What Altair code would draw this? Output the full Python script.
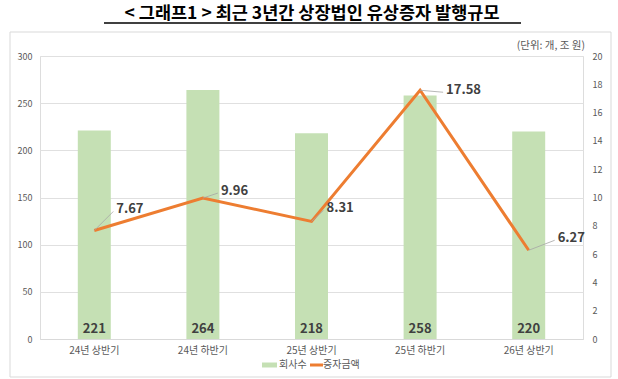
import altair as alt
import pandas as pd

categories = ["24년 상반기", "24년 하반기", "25년 상반기", "25년 하반기", "26년 상반기"]
companies = [221, 264, 218, 258, 220]
amounts = [7.67, 9.96, 8.31, 17.58, 6.27]

TITLE = "< 그래프1 > 최근 3년간 상장법인 유상증자 발행규모"
UNIT = "(단위: 개, 조 원)"
LEGEND_BAR = "회사수"
LEGEND_LINE = "증자금액"

FONT = "Noto Sans CJK KR"
GREEN = "#c5e0b4"
ORANGE = "#ed7d31"
GRAY = "#595959"

df = pd.DataFrame({"cat": categories, "count": companies, "amount": amounts})

xenc = alt.X("cat:N", sort=categories, title=None,
             scale=alt.Scale(paddingInner=0, paddingOuter=0),
             axis=alt.Axis(labelAngle=0, labelFont=FONT, labelFontSize=10, labelColor=GRAY,
                           labelPadding=6, ticks=False, domainColor="#d9d9d9", grid=False))

left_axis = alt.Axis(values=[0, 50, 100, 150, 200, 250, 300], orient="left",
                     labelFont=FONT, labelFontSize=9, labelColor=GRAY, labelPadding=8,
                     labelOverlap=False, ticks=False, domain=False, gridColor="#e0e0e0")
right_axis = alt.Axis(values=list(range(0, 21, 2)), orient="right",
                      labelFont=FONT, labelFontSize=9, labelColor=GRAY, labelPadding=9,
                      labelOverlap=False, ticks=False, domain=False, grid=False)


def yleft():
    return alt.Y("count:Q", title=None, scale=alt.Scale(domain=[0, 300]), axis=left_axis)


def yright():
    return alt.Y("amount:Q", title=None, scale=alt.Scale(domain=[0, 20]), axis=right_axis)


bars = alt.Chart(df).mark_bar(color=GREEN, size=33).encode(x=xenc, y=yleft())
bar_text = alt.Chart(df).mark_text(font=FONT, fontSize=13, fontWeight="bold", color="#404040",
                                   baseline="middle").encode(
    x=alt.X("cat:N", sort=categories), y=alt.value(273), text=alt.Text("count:Q"))
left = alt.layer(bars, bar_text)

line = alt.Chart(df).mark_line(color=ORANGE, strokeWidth=3).encode(
    x=alt.X("cat:N", sort=categories), y=yright())

# label offsets (styling only) per category: (dx, dy)
offsets = [(22, -21), (18, -7), (15, -13), (26, 0), (29, -12)]
label_layers = [line]
for cat, (dx, dy) in zip(categories, offsets):
    base = alt.Chart(df).transform_filter(alt.datum.cat == cat)
    leader = base.mark_rule(color="#a6a6a6", strokeWidth=0.8,
                            x2Offset=dx - 3, y2Offset=dy + 2).encode(
        x=alt.X("cat:N", sort=categories), x2="cat:N",
        y=yright(), y2="amount:Q")
    txt = base.mark_text(font=FONT, fontSize=13, fontWeight="bold", color="#404040",
                         align="left", baseline="middle", dx=dx, dy=dy).encode(
        x=alt.X("cat:N", sort=categories), y=yright(),
        text=alt.Text("amount:Q", format=".2f"))
    label_layers += [leader, txt]
right = alt.layer(*label_layers)

one = alt.Data(values=[{}])
PL, PT = 40, 56
frame = alt.Chart(one).mark_rect(fill=None, stroke="#d9d9d9", strokeWidth=1).encode(
    x=alt.value(10 - PL), x2=alt.value(611 - PL), y=alt.value(32 - PT), y2=alt.value(377 - PT))
title = alt.Chart(one).mark_text(text=TITLE, font=FONT, fontSize=17.5, fontWeight="bold",
                                 color="#000000", align="center", baseline="middle").encode(
    x=alt.value(312 - PL), y=alt.value(14 - PT))
underline = alt.Chart(one).mark_rule(color="#000000", strokeWidth=1.5).encode(
    x=alt.value(104 - PL), x2=alt.value(521 - PL), y=alt.value(23 - PT))
unit = alt.Chart(one).mark_text(text=UNIT, font=FONT, fontSize=10.5, color=GRAY,
                                align="right", baseline="middle").encode(
    x=alt.value(585 - PL), y=alt.value(46 - PT))
leg_sw = alt.Chart(one).mark_rect(color=GREEN).encode(
    x=alt.value(262 - PL), x2=alt.value(277 - PL), y=alt.value(362.5 - PT), y2=alt.value(367.5 - PT))
leg_t1 = alt.Chart(one).mark_text(text=LEGEND_BAR, font=FONT, fontSize=10, color=GRAY,
                                  align="left", baseline="middle").encode(
    x=alt.value(279 - PL), y=alt.value(365 - PT))
leg_ln = alt.Chart(one).mark_rule(color=ORANGE, strokeWidth=3).encode(
    x=alt.value(310 - PL), x2=alt.value(323 - PL), y=alt.value(365 - PT))
leg_t2 = alt.Chart(one).mark_text(text=LEGEND_LINE, font=FONT, fontSize=10, color=GRAY,
                                  align="left", baseline="middle").encode(
    x=alt.value(323 - PL), y=alt.value(365 - PT))

main = alt.layer(left, right).resolve_scale(y="independent")

chart = alt.layer(frame, title, underline, unit, main, leg_sw, leg_t1, leg_ln, leg_t2).properties(
    width=543, height=283,
    autosize=alt.AutoSizeParams(type="none"),
    padding={"left": PL, "top": PT, "right": 35, "bottom": 40},
).configure_view(stroke=None).configure(background="white")

chart.save("out.html", embed_options={"renderer": "svg", "actions": False})
